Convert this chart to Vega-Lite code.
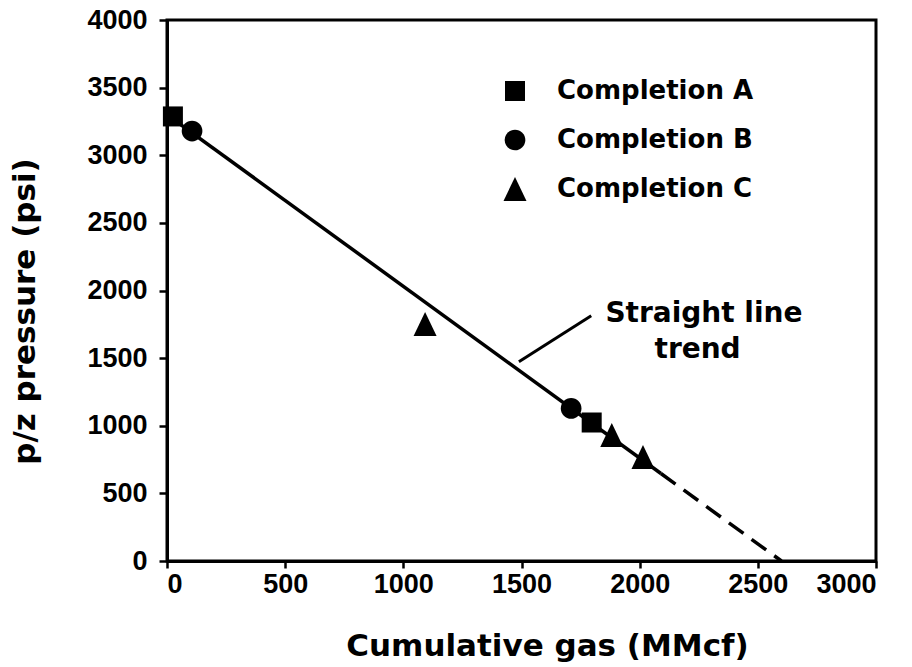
{
  "$schema": "https://vega.github.io/schema/vega-lite/v6.json",
  "width": 709,
  "height": 541,
  "autosize": "none",
  "padding": {"left": 167, "top": 20, "right": 36, "bottom": 106},
  "background": "white",
  "config": {
    "view": {"stroke": "black", "strokeWidth": 3},
    "legend": {
      "orient": "none",
      "legendX": 335,
      "legendY": 58,
      "padding": 0,
      "labelFont": "DejaVu Sans",
      "labelFontWeight": "bold",
      "labelFontSize": 26,
      "labelColor": "black",
      "labelLimit": 400,
      "labelOffset": 29,
      "rowPadding": 23,
      "symbolSize": 529,
      "symbolFillColor": "black",
      "symbolStrokeColor": "black",
      "symbolStrokeWidth": 0
    }
  },
  "datasets": {
    "trendSolid": [{"x": 20, "y": 3275}, {"x": 2090, "y": 647}],
    "trendDashed": [{"x": 2090, "y": 647}, {"x": 2600, "y": 0}],
    "leader": [{"x": 1489, "y": 1474}, {"x": 1795, "y": 1814}],
    "points": [
      {"x": 25, "y": 3287, "series": "Completion A"},
      {"x": 1797, "y": 1024, "series": "Completion A"},
      {"x": 106, "y": 3179, "series": "Completion B"},
      {"x": 1710, "y": 1128, "series": "Completion B"},
      {"x": 1092, "y": 1752, "series": "Completion C"},
      {"x": 1882, "y": 932, "series": "Completion C"},
      {"x": 2014, "y": 769, "series": "Completion C"}
    ],
    "labels": [
      {"x": 2272, "y": 1767, "text": "Straight line"},
      {"x": 2245, "y": 1501, "text": "trend"}
    ]
  },
  "encoding": {
    "x": {
      "field": "x",
      "type": "quantitative",
      "scale": {"domain": [0, 3000], "nice": false, "zero": false},
      "axis": {
        "title": "Cumulative gas (MMcf)",
        "values": [0, 500, 1000, 1500, 2000, 2500, 3000],
        "format": "d",
        "grid": false,
        "domainColor": "black",
        "domainWidth": 3,
        "tickColor": "black",
        "tickWidth": 2.5,
        "tickSize": 7,
        "labelPadding": 3,
        "labelFont": "Liberation Sans",
        "labelFontWeight": "bold",
        "labelFontSize": 27,
        "labelColor": "black",
        "labelOverlap": false,
        "titleFont": "DejaVu Sans",
        "titleFontWeight": "bold",
        "titleFontSize": 31,
        "titleColor": "black",
        "titleX": 380,
        "titleY": 94,
        "titleBaseline": "alphabetic",
        "titleAlign": "center"
      }
    },
    "y": {
      "field": "y",
      "type": "quantitative",
      "scale": {"domain": [0, 4000], "nice": false, "zero": false},
      "axis": {
        "title": "p/z pressure (psi)",
        "values": [0, 500, 1000, 1500, 2000, 2500, 3000, 3500, 4000],
        "format": "d",
        "grid": false,
        "domainColor": "black",
        "domainWidth": 3,
        "tickColor": "black",
        "tickWidth": 2.5,
        "tickSize": 8,
        "labelPadding": 12,
        "labelFont": "Liberation Sans",
        "labelFontWeight": "bold",
        "labelFontSize": 27,
        "labelColor": "black",
        "labelOverlap": false,
        "titleFont": "DejaVu Sans",
        "titleFontWeight": "bold",
        "titleFontSize": 31,
        "titleColor": "black",
        "titleX": -133,
        "titleY": 291,
        "titleBaseline": "alphabetic",
        "titleAlign": "center",
        "titleAngle": 270
      }
    }
  },
  "layer": [
    {
      "data": {"name": "trendSolid"},
      "mark": {"type": "line", "color": "black", "strokeWidth": 3.5}
    },
    {
      "data": {"name": "trendDashed"},
      "mark": {"type": "line", "color": "black", "strokeWidth": 3.5, "strokeDash": [18, 10]}
    },
    {
      "data": {"name": "leader"},
      "mark": {"type": "line", "color": "black", "strokeWidth": 3}
    },
    {
      "data": {"name": "points"},
      "mark": {"type": "point", "filled": true, "color": "black", "opacity": 1, "size": 529},
      "encoding": {
        "shape": {
          "field": "series",
          "type": "nominal",
          "scale": {
            "domain": ["Completion A", "Completion B", "Completion C"],
            "range": [
              "M-0.87,-0.87L0.87,-0.87L0.87,0.87L-0.87,0.87Z",
              "M-0.9,0A0.9,0.9 0 1,0 0.9,0A0.9,0.9 0 1,0 -0.9,0Z",
              "M0,-1.04L1,1.04L-1,1.04Z"
            ]
          },
          "legend": {"title": null}
        }
      }
    },
    {
      "data": {"name": "labels"},
      "mark": {
        "type": "text",
        "font": "DejaVu Sans",
        "fontWeight": "bold",
        "fontSize": 28,
        "color": "black",
        "align": "center",
        "baseline": "alphabetic"
      },
      "encoding": {"text": {"field": "text", "type": "nominal"}}
    }
  ]
}
